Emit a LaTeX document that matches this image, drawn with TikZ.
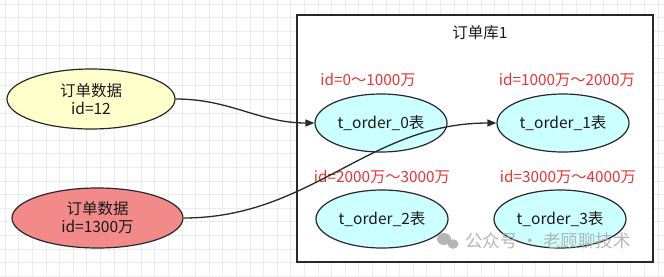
\documentclass[tikz,border=0pt]{standalone}
\usepackage{fontspec}
\setmainfont{Noto Sans CJK SC}
\usetikzlibrary{shapes.geometric,arrows.meta}
\definecolor{gridc}{RGB}{236,236,236}
\definecolor{yelfill}{RGB}{255,255,204}
\definecolor{redfill}{RGB}{242,138,138}
\definecolor{cyanfill}{RGB}{204,255,255}
\definecolor{linec}{RGB}{40,40,40}
\definecolor{labred}{RGB}{232,52,52}
\definecolor{wmc}{RGB}{170,170,170}
\tikzset{
  ell/.style={ellipse, draw=linec, line width=1.2pt, inner sep=0pt, align=center, font=\fontsize{15.5}{18}\selectfont, text=black!90},
  srcell/.style={ell, minimum width=168pt, minimum height=60pt},
  tblell/.style={ell, fill=cyanfill, minimum width=132pt, minimum height=58pt},
  rangelab/.style={text=labred, font=\fontsize{15.3}{18}\selectfont, inner sep=0pt},
  conn/.style={draw=linec, line width=1.3pt, -{Triangle[length=9pt,width=7pt]}},
  wm/.style={text=wmc, font=\fontsize{17.5}{20}\selectfont, inner sep=0pt, opacity=0.85}
}
\begin{document}
\begin{tikzpicture}[x=1pt,y=-1pt]
\useasboundingbox (0,0) rectangle (664,276);
\fill[white] (0,0) rectangle (664,276);
\draw[gridc, line width=0.6pt, step=13.6pt, shift={(5pt,-4pt)}] (-5,-4) grid (664,280);
% database box
\node[draw=linec, line width=1.6pt, fill=white, minimum width=356pt, minimum height=247pt, inner sep=0pt] (db) at (475,138.5) {};
\node[font=\fontsize{15.5}{18}\selectfont, text=black!90, inner sep=0pt] (title) at (480,33) {订单库1};
% tables
\node[tblell] (t0) at (381,123) {t\_order\_0表};
\node[tblell] (t1) at (563,123) {t\_order\_1表};
\node[tblell] (t2) at (382,219) {t\_order\_2表};
\node[tblell] (t3) at (560,219) {t\_order\_3表};
% range labels
\node[rangelab] (r0) at (368,80) {id=0～1000万};
\node[rangelab] (r1) at (567,80) {id=1000万～2000万};
\node[rangelab] (r2) at (382,177) {id=2000万～3000万};
\node[rangelab] (r3) at (568,177) {id=3000万～4000万};
% sources
\node[srcell, fill=yelfill] (s1) at (91,99) {订单数据\\id=12};
\node[srcell, fill=redfill, minimum width=171pt] (s2) at (97.5,218) {订单数据\\id=1300万};
% connectors
\draw[conn] (s1.east) to[out=0,in=180] (t0.west);
\draw[conn] (s2.east) to[out=0,in=180] (t1.west);
% watermark
\fill[wmc, opacity=0.85] (444,239) ellipse (7pt and 6pt);
\fill[wmc, opacity=0.85] (453,244) ellipse (5.5pt and 4.8pt);
\node[wm, anchor=west] (wmtext) at (465,241) {公众号 · 老顾聊技术};
\end{tikzpicture}
\end{document}
